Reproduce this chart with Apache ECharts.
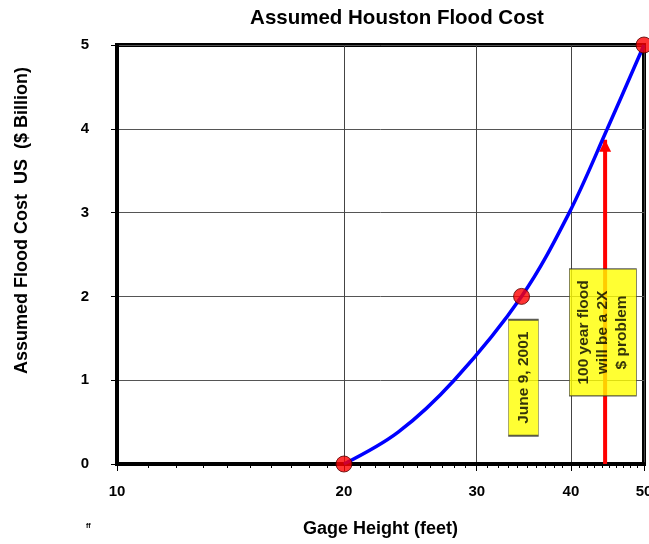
<!DOCTYPE html>
<html>
<head>
<meta charset="utf-8">
<title>Assumed Houston Flood Cost</title>
<script src="https://cdn.jsdelivr.net/npm/echarts@6.0.0/dist/echarts.min.js"></script>
<style>
  html, body { margin: 0; padding: 0; background: #fff; }
  #chart { width: 649px; height: 544px; }
</style>
</head>
<body>
<div id="chart"></div>
<script>
// curve (gage height in feet, cost in $ billion)
var gageHeight = [20, 23.6, 28, 34.4, 39.8, 44.7, 50];
var floodCost  = [0, 0.38, 1, 2, 3, 4, 5];

// red dots
var dotHeight = [20, 34.4, 50];
var dotCost   = [0, 2, 5];

// red arrow: 100 year flood
var arrowHeight = 44.4;
var arrowCost   = [0, 3.87];

// x axis labels and minor ticks
var xTicks = [10, 20, 30, 40, 50];
var xMinorTicks = [11, 12, 13, 14, 15, 16, 17, 18, 19, 21, 22, 23, 24, 25, 26, 27, 28, 29,
                   31, 32, 33, 34, 35, 36, 37, 38, 39, 41, 42, 43, 44, 45, 46, 47, 48, 49];

// yellow notes
var notes = [
    { text: 'June 9, 2001', at: [34.6, 1.03] },
    { text: '100 year flood\nwill be a 2X\n$ problem', at: [44.1, 1.57] }
];

var font = '"Liberation Sans", Arial, sans-serif';

function pairs(xs, ys) {
    var out = [];
    for (var i = 0; i < xs.length; i++) {
        out.push([xs[i], ys[i]]);
    }
    return out;
}

var myChart = echarts.init(document.getElementById('chart'));

var option = {
    animation: false,
    backgroundColor: '#fff',
    title: {
        text: 'Assumed Houston Flood Cost',
        left: 392,
        textAlign: 'center',
        top: 3,
        textStyle: { fontFamily: font, fontSize: 20.5, fontWeight: 'bold', color: '#000' }
    },
    grid: {
        left: 117, right: 5, top: 45, bottom: 80,
        outerBoundsMode: 'none',
        containLabel: false,
        show: true,
        borderColor: '#000',
        borderWidth: 4,
        backgroundColor: 'transparent'
    },
    graphic: [
        {
            type: 'text',
            left: 13, top: 67,
            rotation: Math.PI / 2,
            style: {
                text: 'Assumed Flood Cost  US  ($ Billion)',
                font: 'bold 18px ' + font,
                fill: '#000'
            }
        },
        {
            type: 'text',
            left: 86, top: 523,
            style: { text: 'ff', font: 'bold 7px ' + font, fill: '#000' }
        }
    ],
    xAxis: [
        {
            type: 'log',
            logBase: 10,
            min: 10,
            max: 50,
            name: 'Gage Height (feet)',
            nameLocation: 'middle',
            nameGap: 56,
            nameTextStyle: { fontFamily: font, fontSize: 18, fontWeight: 'bold', color: '#000' },
            axisLine: { lineStyle: { color: '#000', width: 4 } },
            axisTick: { show: true, length: 7, customValues: xTicks, lineStyle: { color: '#000', width: 1 } },
            axisLabel: {
                customValues: xTicks,
                margin: 20,
                fontFamily: font, fontSize: 15, fontWeight: 'bold', color: '#000'
            },
            splitLine: { show: true, lineStyle: { color: '#444', width: 1 } }
        },
        {
            type: 'log',
            logBase: 10,
            min: 10,
            max: 50,
            position: 'bottom',
            axisLine: { show: false },
            axisTick: { show: true, length: 4, customValues: xMinorTicks, lineStyle: { color: '#000', width: 1 } },
            axisLabel: { show: false },
            splitLine: { show: false }
        }
    ],
    yAxis: {
        type: 'value',
        min: 0,
        max: 5,
        interval: 1,
        axisLine: { show: true, lineStyle: { color: '#000', width: 4 } },
        axisTick: { show: true, length: 6, lineStyle: { color: '#000', width: 1 } },
        axisLabel: { margin: 28, fontFamily: font, fontSize: 15, fontWeight: 'bold', color: '#000' },
        splitLine: { show: true, lineStyle: { color: '#555', width: 1 } }
    },
    series: [
        {
            name: 'Cost curve',
            type: 'line',
            smooth: 0.35,
            clip: false,
            showSymbol: false,
            data: pairs(gageHeight, floodCost),
            lineStyle: { color: '#0000ff', width: 3.5 },
            z: 3
        },
        {
            name: '100 year flood',
            type: 'line',
            clip: false,
            data: [
                { value: [arrowHeight, arrowCost[0]], symbol: 'none' },
                { value: [arrowHeight, arrowCost[1]], symbol: 'triangle', symbolSize: [12, 12], symbolOffset: [0, 6] }
            ],
            itemStyle: { color: '#ff0000' },
            lineStyle: { color: '#ff0000', width: 4 },
            z: 2
        },
        {
            name: 'Notes',
            type: 'scatter',
            clip: false,
            symbol: 'rect',
            data: [
                { value: notes[0].at, symbolSize: [30, 116], label: { formatter: notes[0].text } },
                { value: notes[1].at, symbolSize: [67, 127], label: { formatter: notes[1].text } }
            ],
            itemStyle: { color: '#ffff00', borderColor: '#333', borderWidth: 1 },
            label: {
                show: true,
                position: 'inside',
                rotate: 90,
                fontFamily: font,
                fontSize: 15.5,
                fontWeight: 'bold',
                lineHeight: 19,
                color: '#000'
            },
            z: 4
        },
        {
            name: 'Points',
            type: 'scatter',
            clip: false,
            symbol: 'circle',
            symbolSize: 16,
            data: pairs(dotHeight, dotCost),
            itemStyle: { color: '#ff0000', borderColor: '#550000', borderWidth: 1 },
            z: 5
        }
    ]
};

myChart.setOption(option);
</script>
</body>
</html>
